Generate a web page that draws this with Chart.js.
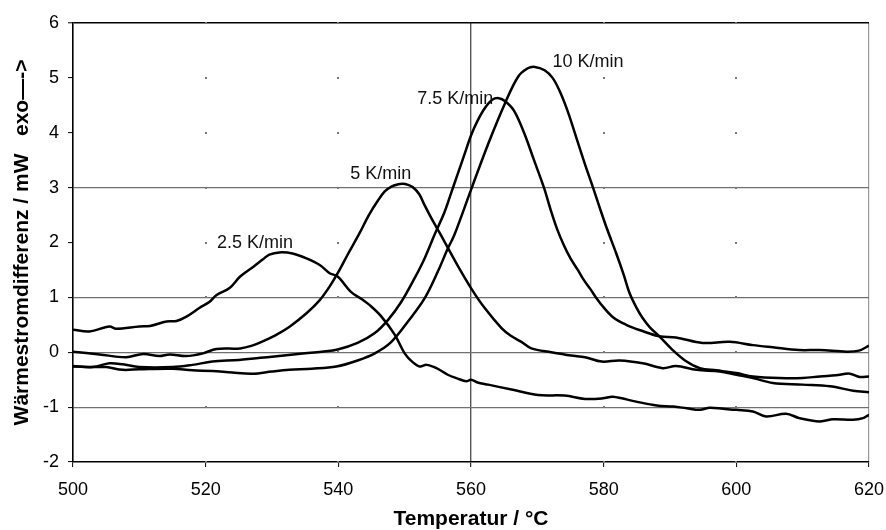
<!DOCTYPE html>
<html><head><meta charset="utf-8">
<script src="https://cdn.jsdelivr.net/npm/chart.js@4.4.1/dist/chart.umd.min.js"></script>
<style>html,body{margin:0;padding:0;background:#fff}#wrap{width:886px;height:530px}</style>
</head><body><div id="wrap"><canvas id="c" width="886" height="530"></canvas></div>
<script>
// ---- data ----
const xTickValues = [500, 520, 540, 560, 580, 600, 620];
const yTickValues = [-2, -1, 0, 1, 2, 3, 4, 5, 6];
const seriesNames = ['2.5 K/min', '5 K/min', '7.5 K/min', '10 K/min'];

const t25 = [500,502.5,505.5,506.5,510,511.6,514.1,515.6,517.1,519.1,520.6,521.6,523.6,525.2,527.2,528.7,529.6,531.1,533.1,535.2,537.2,538.7,539.9,541.9,543.5,545,546.5,548.5,550,551.2,552.3,553.3,554.8,556.5,558,559.3,560,561,562.6,566.1,570.1,574.1,577.2,579.9,581.4,584.9,588,590.5,592.5,594.5,596,598,600,602.5,604.5,607.5,609.5,612.6,614.6,617.6,619.1,620];
const v25 = [0.41,0.38,0.47,0.43,0.47,0.48,0.56,0.57,0.65,0.81,0.92,1.04,1.17,1.38,1.56,1.70,1.78,1.82,1.80,1.71,1.59,1.44,1.38,1.10,0.97,0.83,0.65,0.32,-0.02,-0.18,-0.26,-0.23,-0.29,-0.41,-0.48,-0.53,-0.50,-0.55,-0.59,-0.68,-0.78,-0.79,-0.85,-0.84,-0.81,-0.90,-0.97,-0.99,-1.02,-1.05,-1.01,-1.03,-1.05,-1.08,-1.17,-1.12,-1.20,-1.26,-1.22,-1.23,-1.20,-1.14];

const t5 = [500,504,508,510.6,513,514.6,517,519.6,521.6,525.2,527,529,530.7,532.7,535.2,537.2,538.7,539.9,541.5,543.2,544.6,546,547,548,549,549.7,550.5,551.2,552.2,553,554,555.3,557.8,560,562.1,564.6,566,567.6,569.1,572.1,575.1,577.2,579.7,582.4,585.9,588.9,590.9,594,597.5,600,602.5,605.5,610,614.1,617.6,620];
const v5 = [0.01,-0.04,-0.09,-0.03,-0.07,-0.04,-0.07,-0.02,0.06,0.07,0.12,0.22,0.32,0.47,0.71,0.95,1.20,1.44,1.80,2.17,2.50,2.77,2.93,3.02,3.06,3.07,3.05,3.01,2.88,2.68,2.45,2.17,1.62,1.17,0.80,0.44,0.30,0.19,0.07,0.00,-0.06,-0.09,-0.17,-0.15,-0.20,-0.29,-0.25,-0.32,-0.35,-0.41,-0.47,-0.56,-0.59,-0.62,-0.70,-0.73];

const t75 = [500,503,505.5,507.5,510,515,518,521,525,530,535,537.5,539.9,542.9,545.5,547.5,549.5,551.5,553,554.5,556,557,558,559,560,561,562.1,563.2,564.2,565.2,566.5,568,569.5,571,572,573,574,575,576.1,577,578,579,579.9,581.5,583.4,585.5,588.4,590.9,594.9,599,602.5,605.5,609.5,612.6,616.6,618.5,620];
const v75 = [-0.25,-0.27,-0.20,-0.22,-0.27,-0.27,-0.23,-0.17,-0.14,-0.08,-0.02,0.01,0.05,0.17,0.35,0.59,0.92,1.35,1.71,2.14,2.55,2.90,3.25,3.60,3.95,4.22,4.45,4.60,4.63,4.57,4.40,4.00,3.50,3.00,2.60,2.24,1.95,1.71,1.50,1.32,1.15,0.97,0.83,0.63,0.50,0.40,0.29,0.27,0.17,0.19,0.13,0.09,0.04,0.04,0.01,0.03,0.12];

const t10 = [500,503,505,507.5,510,515,518,521,524,527.1,530,532.6,536,539.7,542.9,545.5,548,550.5,553,555,556.5,557.5,560,562.6,565.1,567.1,568.5,569.6,571.1,572.3,573.4,574.7,575.9,577.2,578.4,579.5,580.5,581.9,583,583.9,585,585.9,587,588.4,590.5,592.5,594.5,597,600,602.5,606.5,610,612.6,615,617.1,618.6,620];
const v10 = [-0.26,-0.27,-0.27,-0.32,-0.31,-0.30,-0.33,-0.34,-0.37,-0.39,-0.35,-0.32,-0.30,-0.26,-0.15,-0.02,0.19,0.56,0.98,1.47,1.89,2.14,2.96,3.80,4.53,5.02,5.17,5.20,5.14,5.00,4.75,4.35,3.90,3.42,3.00,2.60,2.25,1.80,1.42,1.08,0.80,0.62,0.45,0.29,0.03,-0.17,-0.29,-0.33,-0.38,-0.44,-0.47,-0.47,-0.44,-0.42,-0.39,-0.45,-0.44];

const labelX = [521.7, 541.8, 551.9, 572.3];
const labelY = [1.99, 3.24, 4.61, 5.29];

// ---- build ----
const FONT = "'Liberation Sans', Arial, sans-serif";
const pairs = [[t25, v25], [t5, v5], [t75, v75], [t10, v10]];
const datasets = pairs.map((p, i) => ({
  label: seriesNames[i],
  data: p[0].map((x, k) => ({x: x, y: p[1][k]})),
  borderColor: '#000',
  borderWidth: 2.5,
  pointRadius: 0,
  fill: false,
  tension: 0.35
}));

const gridDots = {
  id: 'gridDots',
  beforeDatasetsDraw(chart) {
    const {ctx, scales: {x, y}} = chart;
    ctx.save();
    ctx.fillStyle = '#777';
    xTickValues.forEach(xv => {
      if (xv === 500 || xv === 560 || xv === 620) return;
      yTickValues.forEach(yv => {
        const px = Math.round(x.getPixelForValue(xv));
        const py = Math.round(y.getPixelForValue(yv));
        ctx.fillRect(px - 1, py - 1, 2, 2);
      });
    });
    ctx.restore();
  }
};

const curveLabels = {
  id: 'curveLabels',
  afterDatasetsDraw(chart) {
    const {ctx, scales: {x, y}} = chart;
    ctx.save();
    ctx.font = '18px ' + FONT;
    ctx.fillStyle = '#111';
    ctx.textAlign = 'left';
    ctx.textBaseline = 'middle';
    seriesNames.forEach((n, i) => {
      ctx.fillText(n, x.getPixelForValue(labelX[i]), y.getPixelForValue(labelY[i]));
    });
    ctx.restore();
  }
};

new Chart(document.getElementById('c'), {
  type: 'line',
  data: {datasets},
  plugins: [gridDots, curveLabels],
  options: {
    responsive: false,
    animation: false,
    devicePixelRatio: 1,
    layout: {padding: {top: 23, right: 17, left: 0, bottom: 0}},
    plugins: {legend: {display: false}, tooltip: {enabled: false}},
    scales: {
      x: {
        type: 'linear', min: 500, max: 620,
        afterBuildTicks: s => { s.ticks = xTickValues.map(v => ({value: v})); },
        afterFit: s => { s.height = 68; s.paddingLeft = 0; s.paddingRight = 0; },
        ticks: {color: '#000', font: {family: FONT, size: 18}, padding: 12, maxRotation: 0},
        grid: {
          color: c => c.tick && c.tick.value === 560 ? '#555' : (c.tick && c.tick.value === 620 ? '#9a9a9a' : 'rgba(0,0,0,0)'),
          lineWidth: c => c.tick && c.tick.value === 560 ? 1.4 : 1.2,
          tickColor: '#000', tickLength: 5, tickWidth: 1
        },
        border: {color: '#000', width: 1.6},
        title: {display: true, text: 'Temperatur / °C', color: '#000',
                font: {family: FONT, size: 21, weight: 'bold', lineHeight: 1}, padding: {top: 0, bottom: 0}}
      },
      y: {
        type: 'linear', min: -2, max: 6,
        afterBuildTicks: s => { s.ticks = yTickValues.map(v => ({value: v})); },
        afterFit: s => { s.width = 73; s.paddingTop = 0; s.paddingBottom = 0; },
        ticks: {color: '#000', font: {family: FONT, size: 18}, padding: 9},
        grid: {
          color: c => {
            const v = c.tick ? c.tick.value : null;
            if (v === 6) return '#000';
            if (v === 3 || v === 1 || v === 0 || v === -1) return '#707070';
            return 'rgba(0,0,0,0)';
          },
          lineWidth: c => (c.tick && c.tick.value === 6) ? 1.6 : 1.2,
          tickColor: '#000', tickLength: 5, tickWidth: 1
        },
        border: {color: '#000', width: 1.6},
        title: {display: true, text: 'Wärmestromdifferenz / mW   exo—->', color: '#000',
                font: {family: FONT, size: 21, weight: 'bold', lineHeight: 1}, padding: {top: 12, bottom: 0}}
      }
    }
  }
});
</script></body></html>
